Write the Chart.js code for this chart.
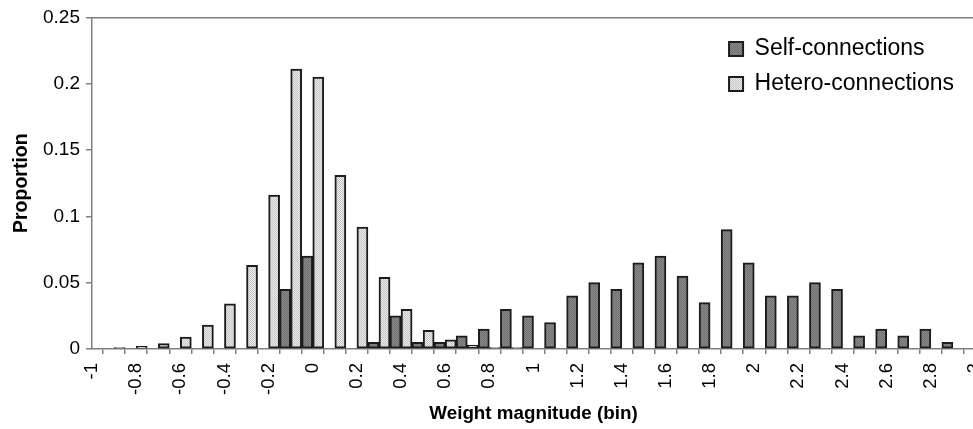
<!DOCTYPE html>
<html>
<head>
<meta charset="utf-8">
<script src="https://cdn.jsdelivr.net/npm/chart.js@4/dist/chart.umd.min.js"></script>
<style>
    html, body { margin: 0; padding: 0; background: #fff; overflow: hidden; }
    canvas { display: block; }
</style>
</head>
<body>
<canvas id="chart" width="1010" height="429"></canvas>
<script>
// Lower edge of each 0.1 wide bin
const binStarts = [-1, -0.9, -0.8, -0.7, -0.6, -0.5, -0.4, -0.3, -0.2, -0.1,
    0, 0.1, 0.2, 0.3, 0.4, 0.5, 0.6, 0.7, 0.8, 0.9,
    1, 1.1, 1.2, 1.3, 1.4, 1.5, 1.6, 1.7, 1.8, 1.9,
    2, 2.1, 2.2, 2.3, 2.4, 2.5, 2.6, 2.7, 2.8, 2.9];

const selfConnections = [0, 0, 0, 0, 0, 0, 0, 0, 0.045, 0.070,
    0, 0, 0.005, 0.025, 0.005, 0.005, 0.010, 0.015, 0.030, 0.025,
    0.020, 0.040, 0.050, 0.045, 0.065, 0.070, 0.055, 0.035, 0.090, 0.065,
    0.040, 0.040, 0.050, 0.045, 0.010, 0.015, 0.010, 0.015, 0.005, 0];

const heteroConnections = [0, 0.001, 0.002, 0.004, 0.009, 0.018, 0.034, 0.063, 0.116, 0.211,
    0.205, 0.131, 0.092, 0.054, 0.030, 0.014, 0.007, 0.003, 0.001, 0.001,
    0, 0, 0, 0, 0, 0, 0, 0, 0, 0,
    0, 0, 0, 0, 0, 0, 0, 0, 0, 0];

const xTickLabels = ['-1', '-0.8', '-0.6', '-0.4', '-0.2', '0', '0.2', '0.4', '0.6', '0.8',
    '1', '1.2', '1.4', '1.6', '1.8', '2', '2.2', '2.4', '2.6', '2.8', '3'];
const yTickLabels = ['0', '0.05', '0.1', '0.15', '0.2', '0.25'];

Chart.defaults.font.family = "'Liberation Sans', Arial, sans-serif";
Chart.defaults.color = '#000';

// small dithered fills like the printed original
function makePattern(light, dark) {
    const c = document.createElement('canvas');
    c.width = 2;
    c.height = 2;
    const g = c.getContext('2d');
    g.fillStyle = light;
    g.fillRect(0, 0, 2, 2);
    g.fillStyle = dark;
    g.fillRect(0, 0, 1, 1);
    g.fillRect(1, 1, 1, 1);
    return g.createPattern(c, 'repeat');
}

const toPoints = values => values.map((v, i) => ({ x: binStarts[i] + 0.05, y: v }));

// put the legend in the top right corner of the plot
const legendCorner = {
    id: 'legendCorner',
    afterLayout(chart) {
        const lg = chart.legend;
        lg.left = chart.chartArea.right - lg.width - 11;
        lg.top = chart.chartArea.top + 8;
    }
};

const axisGray = '#808080';

new Chart(document.getElementById('chart').getContext('2d'), {
    type: 'bar',
    data: {
        datasets: [
            {
                label: 'Hetero-connections',
                data: toPoints(heteroConnections),
                backgroundColor: makePattern('#ececec', '#c4c4c4'),
                borderColor: '#1c1c1c',
                borderWidth: 2,
                borderSkipped: false,
            },
            {
                label: 'Self-connections',
                data: toPoints(selfConnections),
                backgroundColor: makePattern('#8a8a8a', '#707070'),
                borderColor: '#1c1c1c',
                borderWidth: 2,
                borderSkipped: false,
            },
        ],
    },
    options: {
        responsive: false,
        animation: false,
        barPercentage: 1,
        categoryPercentage: 1,
        layout: { padding: { top: 15, right: 35, left: 0, bottom: 0 } },
        plugins: {
            tooltip: { enabled: false },
            legend: {
                position: 'chartArea',
                align: 'start',
                labels: {
                    boxWidth: 14,
                    boxHeight: 14,
                    padding: 12,
                    font: { size: 23 },
                    sort: (a, b) => b.datasetIndex - a.datasetIndex,
                },
            },
        },
        scales: {
            x: {
                type: 'linear',
                min: -1,
                max: 3,
                offset: false,
                ticks: {
                    stepSize: 0.1,
                    autoSkip: false,
                    minRotation: 90,
                    maxRotation: 90,
                    padding: 9,
                    font: { size: 18.5 },
                    callback: v => {
                        const s = String(Math.round(v * 10) / 10);
                        return xTickLabels.includes(s) ? s : '';
                    },
                },
                grid: { drawOnChartArea: false, tickLength: 5, color: axisGray, lineWidth: 1.5 },
                border: { color: axisGray, width: 1.5 },
                title: {
                    display: true,
                    text: 'Weight magnitude (bin)',
                    font: { size: 18.8, weight: 'bold' },
                    padding: { top: 0, bottom: 4 },
                },
                afterFit: s => { s.height = 80; },
            },
            xTop: {
                type: 'linear',
                position: 'top',
                min: -1,
                max: 3,
                ticks: { display: false },
                grid: { drawOnChartArea: false, drawTicks: false, color: axisGray, lineWidth: 1.5 },
                border: { color: axisGray, width: 1.5 },
                afterFit: s => { s.height = 0; },
            },
            y: {
                min: 0,
                max: 0.25,
                ticks: {
                    stepSize: 0.05,
                    padding: 6,
                    font: { size: 19 },
                    callback: (v, i) => yTickLabels[i],
                },
                grid: { drawOnChartArea: false, tickLength: 6, color: axisGray, lineWidth: 1.5 },
                border: { color: axisGray, width: 1.5 },
                title: {
                    display: true,
                    text: 'Proportion',
                    font: { size: 19.5, weight: 'bold' },
                    padding: { top: 10, bottom: 0 },
                },
                afterFit: s => { s.width = 92; },
            },
        },
    },
    plugins: [legendCorner],
});
</script>
</body>
</html>
